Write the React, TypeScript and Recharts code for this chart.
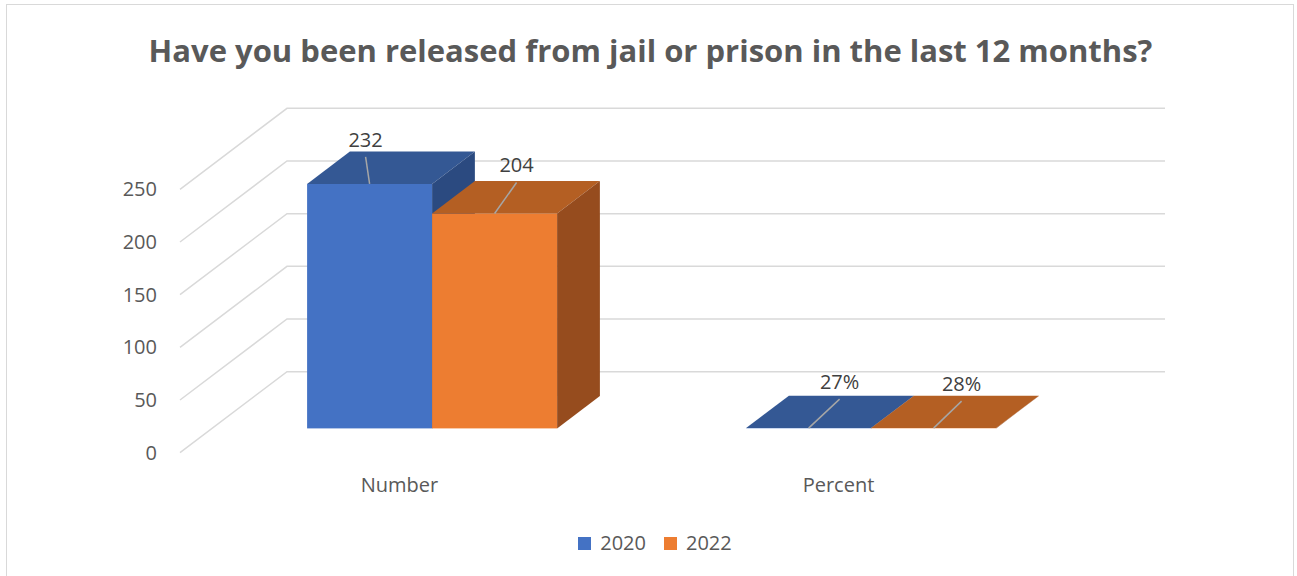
import React from 'react';
import { BarChart, Bar, XAxis, YAxis, CartesianGrid, Legend, LabelList } from 'recharts';

// values
const categories = ['Number', 'Percent'];
const series2020 = [232, 0.27];
const series2022 = [204, 0.28];
const seriesNames = ['2020', '2022'];
const yTicks = [0, 50, 100, 150, 200, 250];

const data = categories.map((c, i) => ({ category: c, '2020': series2020[i], '2022': series2022[i] }));

const FONT = '"Open Sans", "Noto Sans", sans-serif';
const TEXT = '#595959';

// oblique 3D depth of the plot box (floor front -> back wall)
const DX = 107;
const DY = 81;
const BAR_FRONT = 0.3;
const BAR_BACK = 0.7;

const colors = {
    '2020': { front: '#4472C4', top: '#345894', side: '#2B4A80' },
    '2022': { front: '#ED7D31', top: '#B45F23', side: '#964C1E' },
};

// leader-line nudges for data labels (per category)
const labelNudge: Record<string, [number, number][]> = {
    '2020': [[-4, -27], [31, -29]],
    '2022': [[22, -31], [28, -27]],
};

const fmt = (v: number, i: number) => (categories[i] === 'Percent' ? `${Math.round(v * 100)}%` : `${v}`);

// horizontal grid: diagonal on the side wall + line on the back wall
const gridLine = (props: any) => {
    const { x1, y1, x2, index } = props;
    return (
        <polyline
            key={`g-${index}`}
            points={`${x1},${y1} ${x1 + DX},${y1 - DY} ${x2 + DX},${y1 - DY}`}
            fill="none"
            stroke="#D9D9D9"
            strokeWidth={1.5}
        />
    );
};

const makeShape = (name: '2020' | '2022') => (props: any) => {
    const { x, y, width: w, height: h } = props;
    const c = colors[name];
    const fx = x + DX * BAR_FRONT;
    const fy = y - DY * BAR_FRONT;
    const bx = x + DX * BAR_BACK;
    const by = y - DY * BAR_BACK;
    return (
        <g>
            <rect x={fx} y={fy} width={w} height={Math.max(h, 0)} fill={c.front} />
            <polygon points={`${fx},${fy} ${fx + w},${fy} ${bx + w},${by} ${bx},${by}`} fill={c.top} />
            <polygon points={`${fx + w},${fy} ${bx + w},${by} ${bx + w},${by + h} ${fx + w},${fy + h}`} fill={c.side} />
        </g>
    );
};

const makeLabel = (name: string) => (props: any) => {
    const vb = props.viewBox ?? props;
    const x = vb.x ?? props.x;
    const y = vb.y ?? props.y;
    const w = vb.width ?? props.width;
    const { value, index } = props;
    const sx = x + DX * BAR_FRONT + w / 2;
    const sy = y - DY * BAR_FRONT;
    const [dx, dy] = labelNudge[name][index];
    const ex = sx + dx;
    const ey = sy + dy;
    return (
        <g>
            <line x1={sx} y1={sy} x2={ex} y2={ey} stroke="#A6A6A6" strokeWidth={1.5} />
            <text x={ex} y={ey - 10} textAnchor="middle" fontSize={20} fontFamily={FONT} fill="#404040">
                {fmt(Number(value), index)}
            </text>
        </g>
    );
};

const renderLegend = () => (
    <div style={{ display: 'flex', justifyContent: 'center', alignItems: 'center', fontFamily: FONT, fontSize: 20, lineHeight: '24px', color: TEXT, paddingLeft: 13 }}>
        {seriesNames.map((n, i) => (
            <span key={n} style={{ display: 'flex', alignItems: 'center', marginLeft: i ? 18 : 0 }}>
                <span style={{ width: 13, height: 13, background: colors[n as '2020'].front, marginRight: 9 }} />
                {n}
            </span>
        ))}
    </div>
);

export default function App() {
    return (
        <div style={{ position: 'fixed', left: 0, top: 0, width: 1297, height: 576, overflow: 'hidden', background: '#fff' }}>
            <div style={{ position: 'absolute', left: 6, top: 4, width: 1286, height: 600, border: '1.5px solid #D9D9D9' }} />
            <div style={{ position: 'absolute', left: 2, top: 31, width: 1297, textAlign: 'center', fontFamily: FONT, fontWeight: 700, fontSize: 31, lineHeight: '38px', color: TEXT }}>
                Have you been released from jail or prison in the last 12 months?
            </div>
            <div style={{ position: 'absolute', left: 0, top: 0 }}>
                <BarChart
                    width={1297}
                    height={576}
                    data={data}
                    margin={{ top: 189.3, right: 239, bottom: 63.3, left: 100 }}
                    barGap={0}
                    barSize={125}
                    style={{ fontFamily: FONT }}
                >
                    <CartesianGrid vertical={false} horizontal={gridLine} />
                    <XAxis
                        dataKey="category"
                        height={60}
                        axisLine={false}
                        tickLine={false}
                        tickSize={0}
                        tickMargin={25}
                        tick={{ fill: TEXT, fontSize: 20, fontFamily: FONT }}
                    />
                    <YAxis
                        width={80}
                        domain={[0, 250]}
                        ticks={yTicks}
                        axisLine={false}
                        tickLine={false}
                        tickSize={0}
                        tickMargin={23}
                        tick={{ fill: TEXT, fontSize: 20, fontFamily: FONT, dy: '0.45em' }}
                    />
                    <Legend
                        layout="horizontal"
                        verticalAlign="middle"
                        content={renderLegend}
                        wrapperStyle={{ top: 531, left: 0, width: 1297 }}
                    />
                    {seriesNames.map((n) => (
                        <Bar key={n} dataKey={n} isAnimationActive={false} shape={makeShape(n as '2020')}>
                            <LabelList dataKey={n} content={makeLabel(n)} />
                        </Bar>
                    ))}
                </BarChart>
            </div>
        </div>
    );
}
